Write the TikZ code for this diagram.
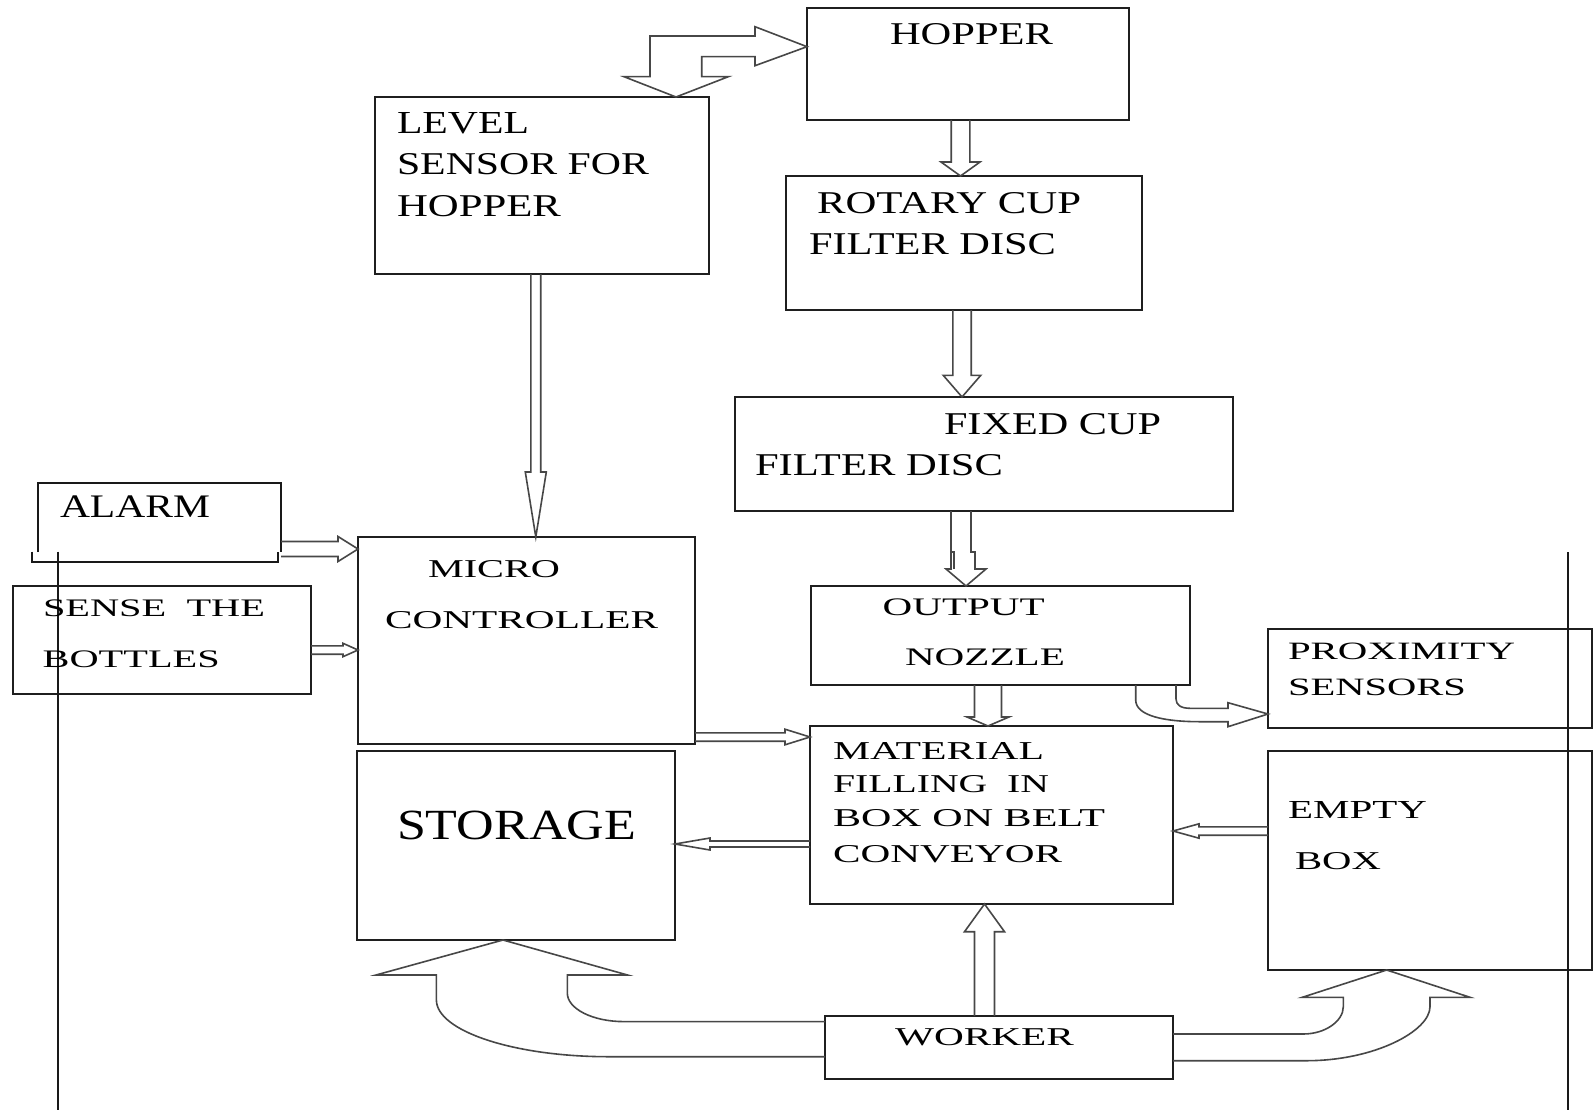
\documentclass[tikz,border=0pt]{standalone}
\usepackage{fontspec}
\setmainfont{Liberation Serif}
\usepackage{graphicx}
\usetikzlibrary{calc}
\tikzset{
 box/.style={draw=black!88, line width=2pt, inner sep=0pt, outer sep=0pt, anchor=north west},
 hollow/.style={inner sep=0pt, outer sep=0pt, anchor=north west},
 blk/.style={draw=black!72, line width=1.6pt, line join=miter},
 txt/.style={inner sep=0pt, outer sep=0pt, anchor=base west, text=black},
 plain/.style={draw=black!90, line width=2pt}
}
\newcommand\fitx[3]{\resizebox{#1pt}{#2pt}{#3}}
\newcommand\bx[5]{\node[box, minimum width={(#4-#2)*1pt}, minimum height={(#5-#3)*1pt}] (#1) at (#2,#3) {};}
% block arrow: start, tip, half shaft, half head, head length, ux, uy
\newcommand\blk[7]{\draw[blk]
 ($(#1)+({-(#3)*(#7)},{(#3)*(#6)})$) --
 ($(#2)+({-(#5)*(#6)-(#3)*(#7)},{-(#5)*(#7)+(#3)*(#6)})$) --
 ($(#2)+({-(#5)*(#6)-(#4)*(#7)},{-(#5)*(#7)+(#4)*(#6)})$) --
 (#2) --
 ($(#2)+({-(#5)*(#6)+(#4)*(#7)},{-(#5)*(#7)-(#4)*(#6)})$) --
 ($(#2)+({-(#5)*(#6)+(#3)*(#7)},{-(#5)*(#7)-(#3)*(#6)})$) --
 ($(#1)+({(#3)*(#7)},{-(#3)*(#6)})$);}
\begin{document}
\begin{tikzpicture}[x=1pt,y=-1pt]
\path[use as bounding box, fill=white] (0,0) rectangle (1595,1110);

% boxes
\bx{hopper}{807}{8}{1129}{120}
\bx{level}{375}{97}{709}{274}
\bx{rotary}{786}{176}{1142}{310}
\bx{fixed}{735}{397}{1233}{511}
\node[hollow, minimum width=243pt, minimum height=69pt] (alarm) at (38,483) {};
\bx{sense}{13}{586}{311}{694}
\bx{micro}{358}{537}{695}{744}
\bx{output}{811}{586}{1190}{685}
\bx{prox}{1268}{629}{1592}{728}
\bx{material}{810}{726}{1173}{904}
\bx{storage}{357}{751}{675}{940}
\bx{empty}{1268}{751}{1592}{970}
\bx{worker}{825}{1016}{1173}{1079}

% alarm outline
\draw[plain] (alarm.south west) -- (alarm.north west) -- (alarm.north east) -- (alarm.south east);
\draw[plain] (32.3,551.7) -- (32.3,561.7) -- (278,561.7) -- (278,551.7);

% long vertical lines
\draw[plain] (58.3,551.7) -- (58.3,1110);
\draw[plain] (1568.3,552) -- (1568.3,1110);

% texts
\node[txt] (tHop) at (890,45) {\fitx{163}{21}{HOPPER}};
\node[txt] (tLev1) at (397,134) {\fitx{132}{21}{LEVEL}};
\node[txt] (tLev2) at (397,175) {\fitx{252}{21}{SENSOR FOR}};
\node[txt] (tLev3) at (397,216) {\fitx{164}{21}{HOPPER}};
\node[txt] (tRot1) at (817,214) {\fitx{264}{21}{ROTARY CUP}};
\node[txt] (tRot2) at (809,254) {\fitx{247}{21}{FILTER DISC}};
\node[txt] (tFix1) at (944,434) {\fitx{217}{21}{FIXED CUP}};
\node[txt] (tFix2) at (755,475) {\fitx{248}{21}{FILTER DISC}};
\node[txt] (tAla) at (60,517) {\fitx{150}{21.7}{ALARM}};
\node[txt] (tSen1) at (43,616) {\fitx{222}{16.7}{SENSE\ \ THE}};
\node[txt] (tSen2) at (42.7,667) {\fitx{177}{16.7}{BOTTLES}};
\node[txt] (tMic1) at (428,577) {\fitx{132}{17}{MICRO}};
\node[txt] (tMic2) at (385,628) {\fitx{273}{17}{CONTROLLER}};
\node[txt] (tOut1) at (882.7,615.7) {\fitx{162}{16.7}{OUTPUT}};
\node[txt] (tOut2) at (905,665.7) {\fitx{160}{16.7}{NOZZLE}};
\node[txt] (tPro1) at (1288,659) {\fitx{227}{16.5}{PROXIMITY}};
\node[txt] (tPro2) at (1288,695) {\fitx{178}{16.5}{SENSORS}};
\node[txt] (tMat1) at (833,759) {\fitx{211}{17}{MATERIAL}};
\node[txt] (tMat2) at (833,792) {\fitx{216}{17}{FILLING\ \ IN}};
\node[txt] (tMat3) at (833,826) {\fitx{272}{17}{BOX ON BELT}};
\node[txt] (tMat4) at (833,862) {\fitx{229}{17}{CONVEYOR}};
\node[txt] (tSto) at (397,839) {\fitx{239}{28.5}{STORAGE}};
\node[txt] (tEmp1) at (1288,818) {\fitx{139}{17}{EMPTY}};
\node[txt] (tEmp2) at (1295,869) {\fitx{86}{17}{BOX}};
\node[txt] (tWor) at (895,1045) {\fitx{179}{17}{WORKER}};

% straight block arrows
\coordinate (a1s) at (hopper.south -| 960.5,0);  \coordinate (a1t) at (rotary.north -| 960.5,0);
\blk{a1s}{a1t}{9.3}{19.5}{14}{0}{1}
\coordinate (a2s) at (rotary.south -| 962,0);  \coordinate (a2t) at (fixed.north -| 962,0);
\blk{a2s}{a2t}{9.2}{18.8}{21.7}{0}{1}
\coordinate (a3s) at (level.south -| 535.8,0);  \coordinate (a3t) at (micro.north -| 535.8,0);
\blk{a3s}{a3t}{4.9}{10.5}{65}{0}{1}
\coordinate (a4s) at (alarm.east |- 0,549);  \coordinate (a4t) at (micro.west |- 0,549);
\blk{a4s}{a4t}{7.5}{12.5}{20}{1}{0}
\coordinate (a5s) at (sense.east |- 0,650);  \coordinate (a5t) at (micro.west |- 0,650);
\blk{a5s}{a5t}{4.2}{6.7}{15}{1}{0}
\coordinate (a6s) at (micro.east |- 0,737);  \coordinate (a6t) at (material.west |- 0,737);
\blk{a6s}{a6t}{4.2}{7.8}{25}{1}{0}
\coordinate (a7s) at (material.west |- 0,844);  \coordinate (a7t) at (storage.east |- 0,844);
\blk{a7s}{a7t}{3}{6}{35}{-1}{0}
\coordinate (a8s) at (empty.west |- 0,831);  \coordinate (a8t) at (material.east |- 0,831);
\blk{a8s}{a8t}{4.2}{7.2}{26}{-1}{0}
\coordinate (a9s) at (worker.north -| 984.5,0);  \coordinate (a9t) at (material.south -| 984.5,0);
\blk{a9s}{a9t}{10}{20}{27.7}{0}{-1}
\coordinate (a10s) at (output.south -| 988,0);  \coordinate (a10t) at (material.north -| 988,0);
\blk{a10s}{a10t}{13.5}{21}{9}{0}{1}

% fixed -> output (doubled arrow)
\coordinate (fo1) at (fixed.south -| 951,0);
\coordinate (fo2) at (fixed.south -| 971,0);
\coordinate (fot) at (output.north -| 966,0);
\draw[blk] (fo1) -- (951,569) -- (946,569) -- (fot) -- (986,569) -- (975,569) -- (975,552) -- (971,552) -- (fo2);
\draw[blk] (951,552) -- (954,552) -- (954,569);

% hopper <-> level sensor
\coordinate (hlD) at (level.north -| 676,0);
\coordinate (hlR) at (hopper.west |- 0,46.7);
\draw[blk] (hlD) -- (624,76.7) -- (650,76.7) -- (650,36) -- (755,36) -- (755,26.7) -- (hlR)
 -- (755,65.7) -- (755,56.7) -- (701.7,56.7) -- (701.7,76.7) -- (728.3,76.7) -- cycle;

% output -> proximity (curved)
\coordinate (opA) at (output.south -| 1135.7,0);
\coordinate (opB) at (output.south -| 1176,0);
\coordinate (opT) at (prox.west |- 0,714);
\draw[blk] (opA) -- (1135.7,700) .. controls (1135.7,716) and (1165,721.7) .. (1200,721.7)
 -- (1228,721.7) -- (1228,726.7) -- (opT) -- (1228,702.7) -- (1228,708.3) -- (1190,708.3)
 .. controls (1181,708.3) and (1176,705) .. (1176,699) -- (opB);

% worker -> storage (curved)
\coordinate (wsA) at (worker.west |- 0,1021.6);
\coordinate (wsB) at (worker.west |- 0,1056.7);
\coordinate (wsT) at (storage.south -| 503,0);
\draw[blk] (wsA) -- (624,1021.6) .. controls (592.6,1021.6) and (567.3,1008.8) .. (567.3,993)
 -- (567.3,975) -- (627.5,975) -- (wsT) -- (376,975) -- (436.4,975) -- (436.4,1000)
 .. controls (436.4,1031) and (514,1056.7) .. (608.6,1056.7) -- (wsB);

% worker -> empty box (curved)
\coordinate (weA) at (worker.east |- 0,1034);
\coordinate (weB) at (worker.east |- 0,1060.7);
\coordinate (weT) at (empty.south -| 1386.7,0);
\draw[blk] (weA) -- (1303.3,1034) .. controls (1325.3,1034) and (1343.3,1021) .. (1343.3,1006.7)
 -- (1343.3,997.3) -- (1302.3,997.3) -- (weT) -- (1470,997.3) -- (1430,997.3) -- (1430,1006.7)
 .. controls (1430,1031) and (1374.4,1060.7) .. (1306.7,1060.7) -- (weB);
\end{tikzpicture}
\end{document}
